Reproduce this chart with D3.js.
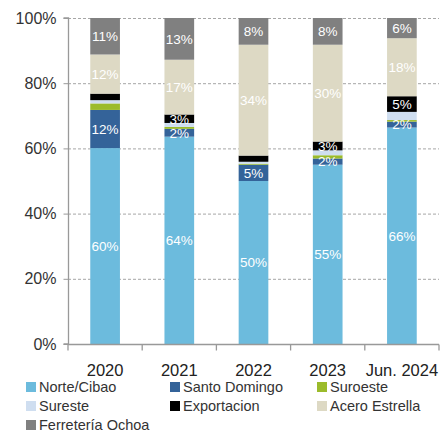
<!DOCTYPE html>
<html><head><meta charset="utf-8">
<script src="https://cdn.jsdelivr.net/npm/d3@7"></script>
<style>body{margin:0;background:#fff;} svg{display:block;font-family:"Liberation Sans",Arial,sans-serif;}</style>
</head><body>
<svg id="c" width="440" height="432"></svg>
<script>
const categories = ["2020", "2021", "2022", "2023", "Jun. 2024"];
const seriesNames = ["Norte/Cibao", "Santo Domingo", "Suroeste", "Sureste", "Exportacion", "Acero Estrella", "Ferretería Ochoa"];
const norteCibao     = [60.1, 63.6, 50.0, 55.0, 66.4];
const santoDomingo   = [11.7, 2.4, 5.0, 1.9, 1.8];
const suroeste       = [2.0, 0.6, 0.3, 1.0, 0.5];
const sureste        = [1.0, 1.2, 0.6, 1.5, 2.5];
const exportacion    = [2.0, 2.6, 1.9, 2.7, 4.8];
const aceroEstrella  = [12.0, 16.8, 34.0, 29.7, 17.8];
const ferreteria     = [11.2, 12.8, 8.2, 8.2, 6.2];
// which data labels are shown, per series
const showNorte   = [1,1,1,1,1];
const showSD      = [1,1,1,1,1];
const showSuro    = [0,0,0,0,0];
const showSure    = [0,0,0,0,0];
const showExp     = [0,1,0,1,1];
const showAcero   = [1,1,1,1,1];
const showFerr    = [1,1,1,1,1];
const yTicks = [0, 20, 40, 60, 80, 100];
const colors = ["#6cbbdd", "#346399", "#9bbb2b", "#cfdef0", "#000000", "#ddd9c4", "#808080"];

const seriesValues = [norteCibao, santoDomingo, suroeste, sureste, exportacion, aceroEstrella, ferreteria];
const seriesShow = [showNorte, showSD, showSuro, showSure, showExp, showAcero, showFerr];

const svg = d3.select("#c");
const x0 = 68, x1 = 439, yTop = 18, yBot = 344;
const x = d3.scaleBand().domain(categories).range([x0, x1]).paddingInner(0.6).paddingOuter(0.3);
const y = d3.scaleLinear().domain([0, 100]).range([yBot, yTop]);

// grid
svg.append("g").selectAll("line").data(yTicks.filter(d => d > 0)).join("line")
  .attr("x1", x0).attr("x2", x1).attr("y1", d => y(d) + 0.5).attr("y2", d => y(d) + 0.5)
  .attr("stroke", "#a6a6a6").attr("stroke-width", 1).attr("stroke-dasharray", "3,2");

// stacked data
const table = categories.map((c, i) => {
  const o = {cat: c};
  seriesNames.forEach((s, j) => o[s] = seriesValues[j][i]);
  return o;
});
const stack = d3.stack().keys(seriesNames)(table);

const g = svg.append("g");
stack.forEach((layer, j) => {
  g.append("g").selectAll("rect").data(layer).join("rect")
    .attr("x", d => x(d.data.cat))
    .attr("width", x.bandwidth())
    .attr("y", d => y(d[1]))
    .attr("height", d => y(d[0]) - y(d[1]))
    .attr("fill", colors[j]);
});
stack.forEach((layer, j) => {
  g.append("g").selectAll("text").data(layer.filter((d, i) => seriesShow[j][i])).join("text")
    .attr("x", d => x(d.data.cat) + x.bandwidth() / 2)
    .attr("y", d => (y(d[0]) + y(d[1])) / 2)
    .attr("dy", "0.36em")
    .attr("text-anchor", "middle")
    .attr("fill", "#ffffff")
    .attr("font-size", 13.5)
    .text(d => Math.round(d[1] - d[0]) + "%");
});

// y axis
const yAxis = d3.axisLeft(y).tickValues(yTicks).tickFormat(d => d + "%").tickSize(5).tickPadding(7);
const ya = svg.append("g").attr("transform", `translate(${x0 + 0.5},0)`).call(yAxis);
ya.select(".domain").attr("stroke", "#999").attr("stroke-width", 1.3).attr("d", `M-5,${yTop}H0V${yBot}H-5`);
ya.selectAll(".tick line").attr("stroke", "#999");
ya.selectAll("text").attr("font-size", 16).attr("fill", "#333").attr("font-family", "Liberation Sans, Arial, sans-serif");

// x axis
const xa = svg.append("g").attr("transform", `translate(0,${yBot + 0.5})`);
xa.append("line").attr("x1", x0).attr("x2", x1).attr("stroke", "#999").attr("stroke-width", 1.3);
const step = (x1 - x0) / categories.length;
xa.selectAll(".tk").data(d3.range(categories.length + 1)).join("line")
  .attr("x1", i => x0 + i * step).attr("x2", i => x0 + i * step)
  .attr("y1", 0).attr("y2", 6).attr("stroke", "#999").attr("stroke-width", 1.3);
xa.selectAll("text").data(categories).join("text")
  .attr("x", d => x(d) + x.bandwidth() / 2).attr("y", 31)
  .attr("text-anchor", "middle").attr("font-size", 16.5).attr("fill", "#222")
  .text(d => d);

// legend
const legCols = [26, 170, 317];
const legRows = [387, 406, 425];
const lg = svg.append("g");
seriesNames.forEach((s, i) => {
  const cx = legCols[i % 3], cy = legRows[Math.floor(i / 3)];
  lg.append("rect").attr("x", cx).attr("y", cy - 5).attr("width", 10).attr("height", 10).attr("fill", colors[i]);
  lg.append("text").attr("x", cx + 13).attr("y", cy).attr("dy", "0.36em")
    .attr("font-size", 14.5).attr("fill", "#333").text(s);
});
</script>
</body></html>
